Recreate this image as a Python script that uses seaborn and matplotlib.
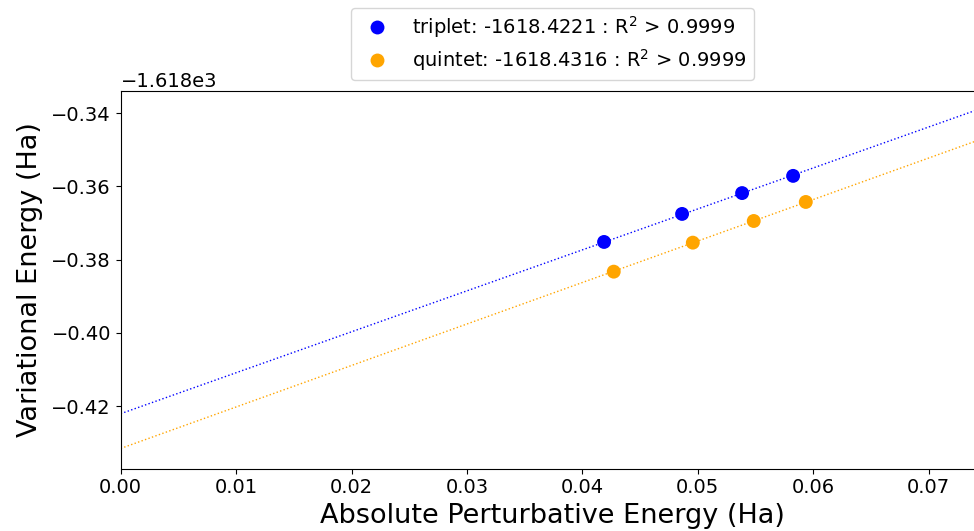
import numpy as np
import pandas as pd
import matplotlib
matplotlib.use("Agg")
import matplotlib.pyplot as plt
import seaborn as sns

# ---- data ----
states = ["triplet", "quintet"]
triplet_pt = [0.04188, 0.04864, 0.05384, 0.05826]
triplet_var = [-1618.37516, -1618.36750, -1618.36180, -1618.35710]
quintet_pt = [0.04272, 0.04957, 0.05485, 0.05936]
quintet_var = [-1618.38328, -1618.37535, -1618.36943, -1618.36423]
intercepts = [-1618.4221, -1618.4316]
r2_labels = ["0.9999", "0.9999"]
colors = ["blue", "orange"]

df = pd.DataFrame({
    "pt": triplet_pt + quintet_pt,
    "var": triplet_var + quintet_var,
    "state": ["triplet"] * len(triplet_pt) + ["quintet"] * len(quintet_pt),
})

fig = plt.figure(figsize=(9.74, 5.31), dpi=100)
ax = fig.add_axes([120.7 / 974, (531 - 468.5) / 531, (984 - 120.7) / 974, (468.5 - 90.7) / 531])

xmax = 0.0748
xs = np.array([0.0, xmax])
for st, b, c in zip(states, intercepts, colors):
    sub = df[df.state == st]
    x = sub.pt.to_numpy()
    y = sub["var"].to_numpy()
    slope = np.sum(x * (y - b)) / np.sum(x * x)
    line = pd.DataFrame({"x": xs, "y": b + slope * xs})
    sns.lineplot(data=line, x="x", y="y", ax=ax, color=c, linestyle=":",
                 linewidth=1.0, legend=False)

labels = {st: f"{st}: {b:.4f} : R$^2$ > {r}" for st, b, r in zip(states, intercepts, r2_labels)}
df["label"] = df.state.map(labels)
sns.scatterplot(data=df, x="pt", y="var", hue="label",
                palette=[colors[0], colors[1]], s=100, linewidth=0, ax=ax, zorder=3)

ax.set_xlim(0, xmax)
ax.set_ylim(-1618.43708, -1618.33382)
ax.set_xticks([0.0, 0.01, 0.02, 0.03, 0.04, 0.05, 0.06, 0.07])
ax.tick_params(labelsize=14)
ax.yaxis.get_offset_text().set_fontsize(14)
ax.set_xlabel("Absolute Perturbative Energy (Ha)", fontsize=19.5)
ax.set_ylabel("Variational Energy (Ha)", fontsize=19.5, labelpad=6)

leg = ax.legend(loc="lower center", bbox_to_anchor=(0.5, 1.0), fontsize=14,
                title=None, markerscale=1.0, borderaxespad=0.55,
                labelspacing=0.35, borderpad=0.35)

fig.savefig("out.png", dpi=100)
